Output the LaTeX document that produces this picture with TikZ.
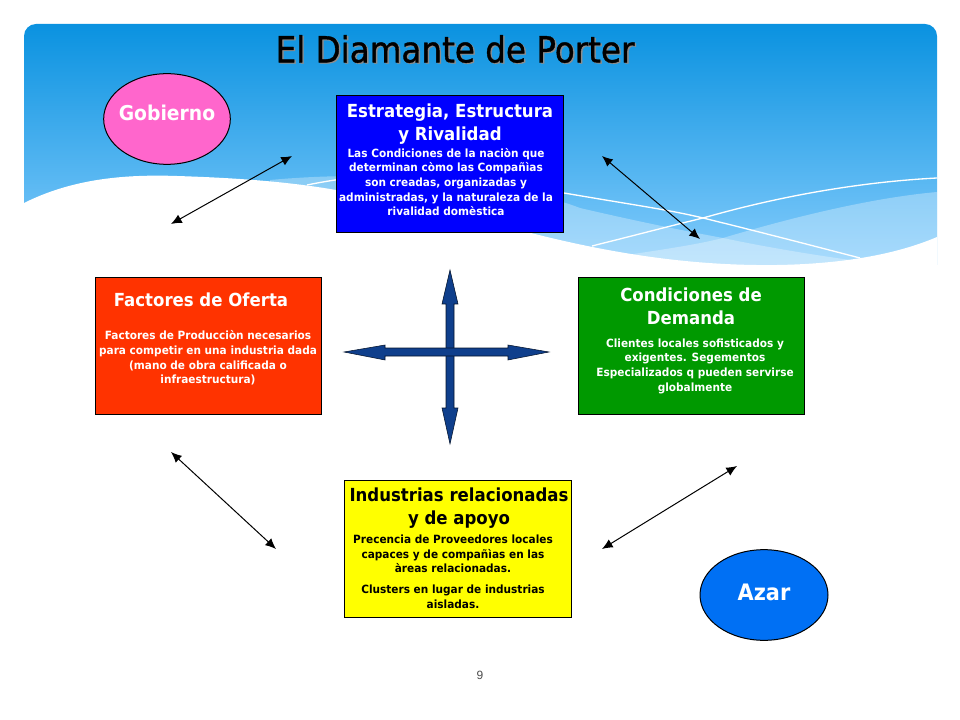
\documentclass[tikz,border=0pt]{standalone}
\usepackage{fontspec}
\setmainfont{DejaVu Sans}
\newfontfamily\headfont[FakeStretch=0.92]{DejaVu Sans}
\newfontfamily\bodyfont[FakeStretch=0.93]{DejaVu Sans}
\newfontfamily\titlefont[FakeStretch=0.905,FakeBold=1]{DejaVu Sans}
\newfontfamily\pagefont{Liberation Sans}
\usetikzlibrary{arrows.meta}
\usetikzlibrary{shapes.geometric}

\definecolor{panetop}{HTML}{0A92E0}
\definecolor{panebottom}{HTML}{84CCFC}
\definecolor{crossblue}{HTML}{0F3F8C}
\definecolor{govpink}{HTML}{FF66CC}
\definecolor{luckblue}{HTML}{0070F4}
\definecolor{cardblue}{HTML}{0000FF}
\definecolor{cardred}{HTML}{FF3300}
\definecolor{cardgreen}{HTML}{009900}
\definecolor{cardyellow}{HTML}{FFFF00}

\tikzset{
  card/.style={draw=black, line width=0.75pt, minimum width=#1, minimum height=103pt, inner sep=0pt},
  head/.style={font=\headfont\bfseries\fontsize{13.5}{17}\selectfont, align=center, inner sep=0pt},
  body/.style={font=\bodyfont\bfseries\fontsize{8.5}{11}\selectfont, align=center, inner sep=0pt},
  link/.style={line width=0.75pt, {Latex[length=8pt,width=7pt]}-{Latex[length=8pt,width=7pt]}},
  crossarm/.style={draw=black!70!crossblue, line width=0.4pt, fill=crossblue},
}

\begin{document}
\begin{tikzpicture}[x=0.75pt, y=-0.75pt]
  \useasboundingbox (0, 0) rectangle (960, 720);

  % background
  \begin{scope}
    \clip [rounded corners=9pt] (24, 24) rectangle (937, 300);
    \shade [top color=panetop, bottom color=panebottom] (24, 24) rectangle (937, 265);

    \fill [white, opacity=0.3] (270, 180) .. controls (400, 168) and (520, 185) .. (580, 208)
    .. controls (640, 222) and (690, 232) .. (723, 238)
    .. controls (770, 248) and (820, 256) .. (865, 262)
    -- (865, 290) -- (270, 290) -- cycle;
    \fill [white, opacity=0.3] (620, 256) .. controls (660, 250) and (695, 245) .. (723, 238)
    .. controls (790, 218) and (870, 198) .. (937, 192)
    -- (937, 290) -- (620, 290) -- cycle;

    \fill [white] (24, 203) .. controls (70, 180) and (120, 174) .. (177, 176)
    .. controls (240, 178) and (290, 182) .. (336, 190)
    .. controls (400, 202) and (470, 218) .. (527, 232)
    .. controls (620, 256) and (700, 266) .. (777, 265)
    .. controls (840, 264) and (895, 255) .. (937, 237)
    -- (937, 300) -- (24, 300) -- cycle;

    \draw [white, line width=1pt] (307, 185) .. controls (400, 166) and (490, 172) .. (564, 193)
    .. controls (640, 206) and (670, 210) .. (703, 218)
    .. controls (760, 232) and (810, 245) .. (860, 258);
    \draw [white, line width=1pt] (592, 246) .. controls (640, 234) and (670, 226) .. (703, 218)
    .. controls (780, 196) and (860, 182) .. (937, 178);
  \end{scope}

  % title
  \node [text=black!45, font=\titlefont\fontsize{27}{30}\selectfont] (titleshadow) at (456.5, 50) {El Diamante de Porter};
  \node [text=black, font=\titlefont\fontsize{27}{30}\selectfont] (title) at (455, 49) {El Diamante de Porter};

  % ovals
  \node [draw=black, fill=govpink, ellipse, line width=0.75pt, minimum width=95pt, minimum height=68pt, inner sep=0pt] (gobierno) at (167, 119) {};
  \node [head, text=white, font=\headfont\bfseries\fontsize{15.3}{17}\selectfont] (gobiernotext) at (167, 113) {Gobierno};
  \node [draw=black, fill=luckblue, ellipse, line width=0.75pt, minimum width=96pt, minimum height=68pt, inner sep=0pt] (azar) at (764, 595) {};
  \node [head, text=white, font=\headfont\bfseries\fontsize{17}{17}\selectfont] (azartext) at (764, 592) {Azar};

  % cards
  \node [card=170.5pt, fill=cardblue] (estrategia) at (450, 164) {};
  \node [card=170pt, fill=cardred] (factores) at (208.5, 346) {};
  \node [card=170pt, fill=cardgreen] (condiciones) at (691.5, 346) {};
  \node [card=170.5pt, fill=cardyellow] (industrias) at (458, 549) {};

  \node [head, text=white] (estrategiahead) at (450, 124) {Estrategia, Estructura\\y Rivalidad};
  \node [body, text=white] (estrategiabody) at (446, 182) {Las Condiciones de la naciòn que\\determinan còmo las Compañìas\\son creadas, organizadas y\\administradas, y la naturaleza de la\\rivalidad domèstica};

  \node [head, text=white] (factoreshead) at (201, 300) {Factores de Oferta};
  \node [body, text=white] (factoresbody) at (208, 358) {Factores de Producciòn necesarios\\para competir en una industria dada\\(mano de obra calificada o\\infraestructura)};

  \node [head, text=white] (condicioneshead) at (691, 306) {Condiciones de\\Demanda};
  \node [body, text=white] (condicionesbody) at (695, 366) {Clientes locales sofisticados y\\exigentes. Segementos\\Especializados q pueden servirse\\globalmente};

  \node [head, text=black] (industriashead) at (459, 508) {Industrias relacionadas\\y de apoyo};
  \node [body, text=black] (industriasbody) at (453, 554) {Precencia de Proveedores locales\\capaces y de compañìas en las\\àreas relacionadas.};
  \node [body, text=black] (clusterbody) at (453, 597) {Clusters en lugar de industrias\\aisladas.};

  % double arrows
  \coordinate (NWa) at (292, 156);
  \coordinate (NWb) at (171, 224);
  \coordinate (NEa) at (602, 156);
  \coordinate (NEb) at (700, 239);
  \coordinate (SWa) at (171, 452);
  \coordinate (SWb) at (276, 549);
  \coordinate (SEa) at (737, 466);
  \coordinate (SEb) at (602, 549);

  \draw [link] (NWa) -- (NWb);
  \draw [link] (NEa) -- (NEb);
  \draw [link] (SWa) -- (SWb);
  \draw [link] (SEa) -- (SEb);

  % cross
  \draw [crossarm] (450, 270) -- (458, 304) -- (454, 304) -- (454, 408) -- (458, 408) -- (450, 444)
  -- (442, 408) -- (446, 408) -- (446, 304) -- (442, 304) -- cycle;
  \draw [crossarm] (344, 352) -- (385, 345) -- (385, 348) -- (508, 348) -- (508, 345) -- (549, 352)
  -- (508, 360) -- (508, 356) -- (385, 356) -- (385, 360) -- cycle;

  \node [text=black!70, font=\pagefont\fontsize{9}{11}\selectfont] (pagenum) at (480, 675) {9};
\end{tikzpicture}
\end{document}
